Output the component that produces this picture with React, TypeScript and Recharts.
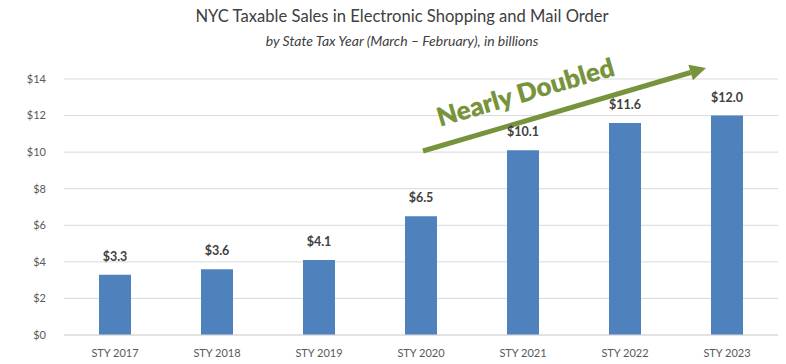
import React from 'react';
import { BarChart, Bar, XAxis, YAxis, CartesianGrid, LabelList, Customized } from 'recharts';

const categories = ['STY 2017', 'STY 2018', 'STY 2019', 'STY 2020', 'STY 2021', 'STY 2022', 'STY 2023'];
const values = [3.3, 3.6, 4.1, 6.5, 10.1, 11.6, 12.0];
const yTicks = [0, 2, 4, 6, 8, 10, 12, 14];

const data = categories.map((c, i) => ({ name: c, value: values[i] }));

const FONT = 'Lato, "Open Sans", sans-serif';

const Annotation = () => {
  const x1 = 423, y1 = 151, x2 = 706, y2 = 68;
  const ang = Math.atan2(y2 - y1, x2 - x1);
  const deg = (ang * 180) / Math.PI;
  const headLen = 16;
  const headW = 8;
  const bx = x2 - headLen * Math.cos(ang);
  const by = y2 - headLen * Math.sin(ang);
  const px = -Math.sin(ang), py = Math.cos(ang);
  return (
    <g>
      <line x1={x1} y1={y1} x2={bx} y2={by} stroke="#77933C" strokeWidth={5} />
      <polygon
        points={`${x2},${y2} ${bx + px * headW},${by + py * headW} ${bx - px * headW},${by - py * headW}`}
        fill="#77933C"
      />
      <text
        x={528}
        y={101}
        transform={`rotate(${deg} 528 101)`}
        textAnchor="middle"
        fill="#77933C"
        fontFamily={FONT}
        fontWeight={800}
        fontSize={26}
      >
        Nearly Doubled
      </text>
    </g>
  );
};

export default function App() {
  return (
    <div style={{ position: 'absolute', left: 0, top: 0, width: 786, height: 364, background: '#fff', fontFamily: FONT }}>
      <div style={{ position: 'absolute', top: 6, left: 9, width: 786, textAlign: 'center', fontSize: 16.6, color: '#404040' }}>
        NYC Taxable Sales in Electronic Shopping and Mail Order
      </div>
      <div style={{ position: 'absolute', top: 32, left: 9, width: 786, textAlign: 'center', fontSize: 14, fontStyle: 'italic', color: '#404040' }}>
        by State Tax Year (March – February), in billions
      </div>
      <BarChart width={786} height={364} data={data} margin={{ top: 79, right: 8, bottom: 0, left: 0 }}>
        <CartesianGrid vertical={false} stroke="#D9D9D9" />
        <XAxis
          dataKey="name"
          tickLine={false}
          axisLine={{ stroke: '#D9D9D9' }}
          height={29}
          tick={{ fill: '#595959', fontSize: 11, fontFamily: FONT }}
          tickMargin={8}
          interval={0}
        />
        <YAxis
          domain={[0, 14]}
          ticks={yTicks}
          width={64}
          axisLine={false}
          tickLine={false}
          tickMargin={12}
          tickFormatter={(v: number) => `$${v}`}
          tick={{ fill: '#595959', fontSize: 11, fontFamily: FONT }}
        />
        <Bar dataKey="value" fill="#4F81BD" barSize={32} isAnimationActive={false}>
          <LabelList
            dataKey="value"
            position="top"
            offset={14}
            formatter={(v: number) => `$${v.toFixed(1)}`}
            style={{ fill: '#404040', fontSize: 12.5, fontWeight: 700, fontFamily: FONT }}
          />
        </Bar>
        <Customized component={Annotation} />
      </BarChart>
    </div>
  );
}
